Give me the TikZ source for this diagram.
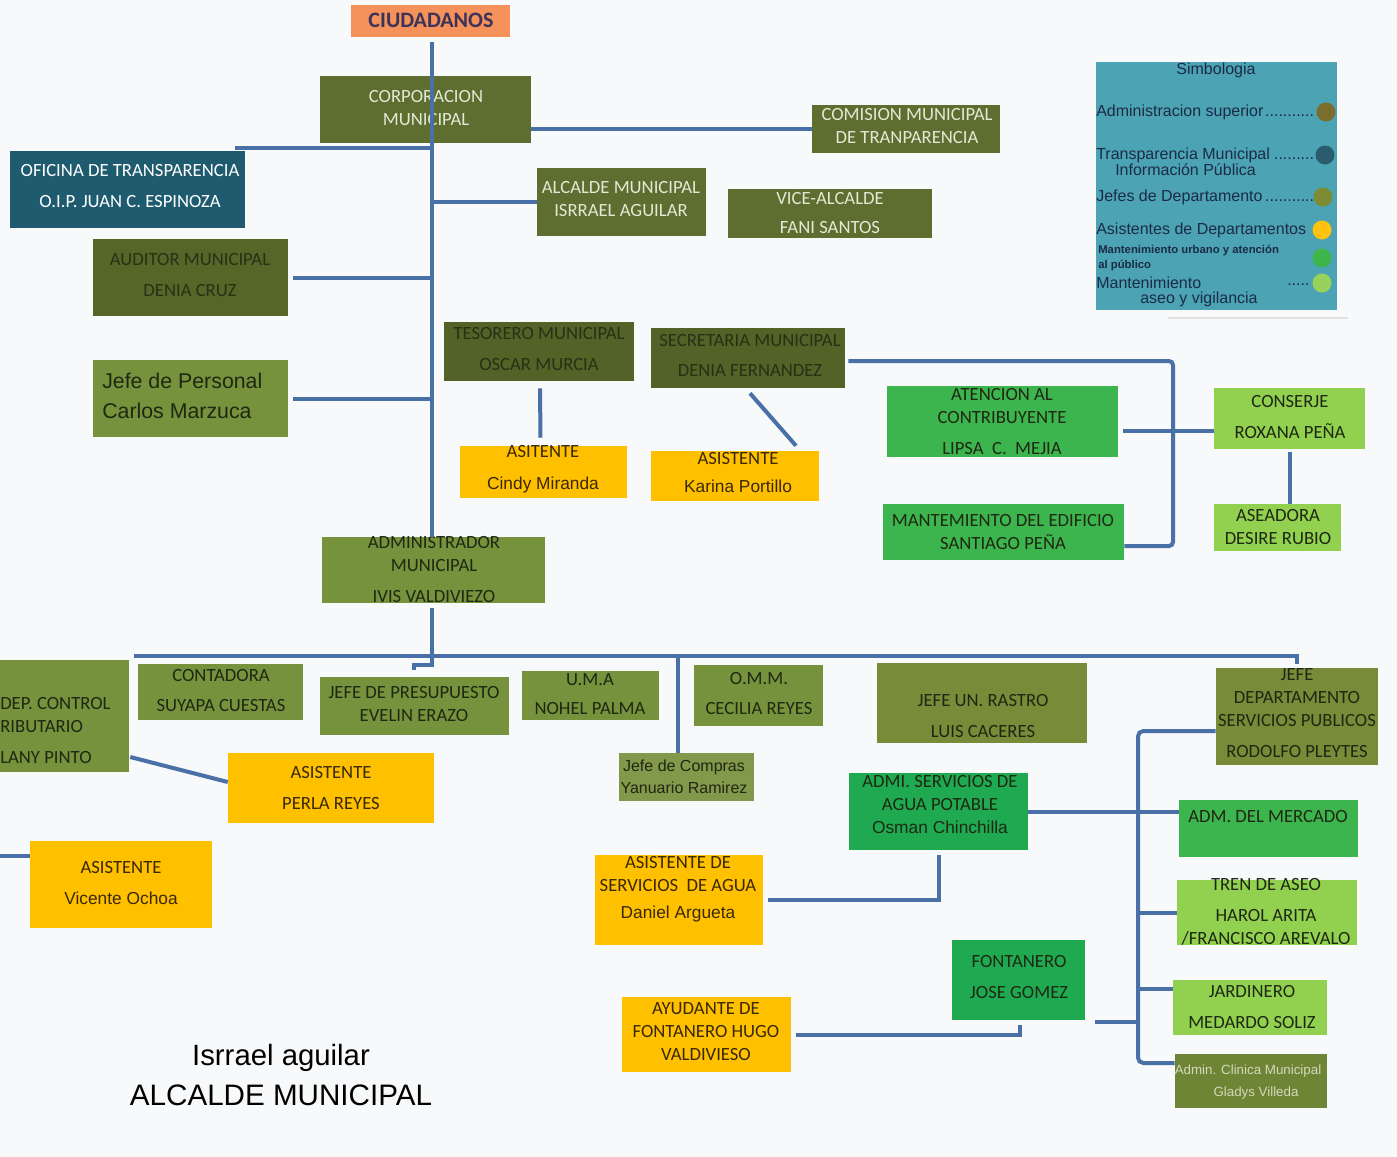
\documentclass[tikz,border=0pt]{standalone}
\usepackage{fontspec}
\setmainfont{Carlito}
\newfontfamily\arialf{Liberation Sans}
\usetikzlibrary{fit,calc}
\definecolor{bg}{HTML}{F8F9FA}
\definecolor{lineb}{HTML}{4A70A8}
\definecolor{cCiu}{HTML}{F5915A}
\definecolor{tCiu}{HTML}{3B3358}
\definecolor{cSup}{HTML}{5E6E30}
\definecolor{tSup}{HTML}{E4E8D4}
\definecolor{cAud}{HTML}{566528}
\definecolor{cTes}{HTML}{536227}
\definecolor{cOfi}{HTML}{1F5B6E}
\definecolor{cJefe}{HTML}{76923C}
\definecolor{cRas}{HTML}{788B38}
\definecolor{cComp}{HTML}{82984A}
\definecolor{cAsi}{HTML}{FFC000}
\definecolor{tAsi}{HTML}{3A2806}
\definecolor{cGrn}{HTML}{3DB54F}
\definecolor{cGrn2}{HTML}{1FAA52}
\definecolor{cLgr}{HTML}{92D050}
\definecolor{cCli}{HTML}{6E8535}
\definecolor{tDark}{HTML}{1E2812}
\definecolor{tLeg}{HTML}{1C2B45}
\definecolor{cLeg}{HTML}{4BA3B4}
\definecolor{k1}{HTML}{7B6E2C}
\definecolor{k2}{HTML}{2B5C6E}
\definecolor{k3}{HTML}{7D8B35}
\definecolor{k4}{HTML}{FFC20E}
\definecolor{k5}{HTML}{3DB54A}
\definecolor{k6}{HTML}{98D25A}
\newcommand\dts{\leaders\hbox{.}\hfill}
\begin{document}
\begin{tikzpicture}[x=0.75pt,y=-0.75pt,
  bxs/.style={rectangle,inner sep=0pt,draw=none},
  tx/.style={align=center,inner sep=0pt,text=tDark,font=\fontsize{14}{17.25}\selectfont},
  conn/.style={draw=lineb,line width=3pt},
  leg/.style={anchor=west,inner sep=0pt,text=tLeg,font=\arialf\fontsize{12}{13}\selectfont}]
\fill[bg] (0,0) rectangle (1397,1157);
\useasboundingbox (0,0) rectangle (1397,1157);
\clip (0,0) rectangle (1397,1157);

% ---------- boxes ----------
\node[bxs,fill=cCiu,fit={(351,5)(510,37)}] (ciu) {};
\node[tx,text=tCiu,font=\bfseries\fontsize{16.5}{18}\selectfont] (ciut) at (431,20) {CIUDADANOS};

\node[bxs,fill=cSup,fit={(320,76)(531,143)}] (corp) {};
\node[tx,text=tSup] (corpt) at (426,108.5) {CORPORACION\\MUNICIPAL};

\node[bxs,fill=cSup,fit={(812,105)(1000,153)}] (com) {};
\node[tx,text=tSup] (comt) at (907,126.5) {COMISION MUNICIPAL\\DE TRANPARENCIA};

\node[bxs,fill=cOfi,fit={(10,151)(245,228)}] (ofi) {};
\node[tx,text=white] (ofit) at (130,186.5) {OFICINA DE TRANSPARENCIA\\[6pt]O.I.P. JUAN C. ESPINOZA};

\node[bxs,fill=cSup,fit={(537,168)(706,236)}] (alc) {};
\node[tx,text=tSup] (alct) at (621,199.5) {ALCALDE MUNICIPAL\\ISRRAEL AGUILAR};

\node[bxs,fill=cSup,fit={(728,189)(932,238)}] (vice) {};
\node[tx,text=tSup] (vicet) at (830,213) {VICE-ALCALDE\\[5pt]FANI SANTOS};

\node[bxs,fill=cAud,fit={(93,239)(288,316)}] (aud) {};
\node[tx,text=tDark!85!cAud] (audt) at (190,275) {AUDITOR MUNICIPAL\\[6pt]DENIA CRUZ};

\node[bxs,fill=cJefe,fit={(93,360)(288,437)}] (per) {};
\node[tx,align=left,anchor=west,font=\arialf\fontsize{16}{22.5}\selectfont] (pert) at (102,396) {Jefe de Personal\\Carlos Marzuca};

\node[bxs,fill=cTes,fit={(444,322)(634,381)}] (teso) {};
\node[tx,text=tDark!85!cTes] (tesot) at (539,349) {TESORERO MUNICIPAL\\[6pt]OSCAR MURCIA};

\node[bxs,fill=cTes,fit={(651,328)(845,388)}] (secr) {};
\node[tx,text=tDark!85!cTes] (secrt) at (750,355.5) {SECRETARIA MUNICIPAL\\[5pt]DENIA FERNANDEZ};

\node[bxs,fill=cAsi,fit={(460,446)(627,498)}] (cindy) {};
\node[tx,text=tAsi] (cindyt) at (543,469.5) {ASITENTE\\[7pt]{\arialf\fontsize{13}{15}\selectfont Cindy Miranda}};

\node[bxs,fill=cAsi,fit={(651,451)(819,501)}] (kar) {};
\node[tx,text=tAsi] (kart) at (738,472.5) {ASISTENTE\\[4pt]{\arialf\fontsize{13}{15}\selectfont Karina Portillo}};

\node[bxs,fill=cGrn,fit={(887,386)(1118,457)}] (aten) {};
\node[tx] (atent) at (1002,421.5) {ATENCION AL\\CONTRIBUYENTE\\[6pt]LIPSA\ \ C.\ \ MEJIA};

\node[bxs,fill=cGrn,fit={(883,504)(1124,560)}] (mant) {};
\node[tx] (mantt) at (1003,531.5) {MANTEMIENTO DEL EDIFICIO\\SANTIAGO PEÑA};

\node[bxs,fill=cLgr,fit={(1214,388)(1365,449)}] (cons) {};
\node[tx] (const) at (1290,417) {CONSERJE\\[6pt]ROXANA PEÑA};

\node[bxs,fill=cLgr,fit={(1214,504)(1341,551)}] (asea) {};
\node[tx] (aseat) at (1278,527.5) {ASEADORA\\DESIRE RUBIO};

\node[bxs,fill=cJefe,fit={(322,537)(545,603)}] (admin) {};
\node[tx] (admint) at (434,569.5) {ADMINISTRADOR\\MUNICIPAL\\[6pt]IVIS VALDIVIEZO};

\node[bxs,fill=cJefe,fit={(-20,660)(129,772)}] (dep) {};
\node[tx,align=left,anchor=west] (dept) at (0,730) {DEP. CONTROL\\RIBUTARIO\\[6pt]LANY PINTO};

\node[bxs,fill=cJefe,fit={(138,664)(303,720)}] (cont) {};
\node[tx] (contt) at (221,690.5) {CONTADORA\\[5pt]SUYAPA CUESTAS};

\node[bxs,fill=cJefe,fit={(320,677)(509,735)}] (pres) {};
\node[tx] (prest) at (414,703.5) {JEFE DE PRESUPUESTO\\EVELIN ERAZO};

\node[bxs,fill=cJefe,fit={(522,671)(659,720)}] (uma) {};
\node[tx] (umat) at (590,694) {U.M.A\\[5pt]NOHEL PALMA};

\node[bxs,fill=cJefe,fit={(694,665)(823,726)}] (omm) {};
\node[tx] (ommt) at (759,693.5) {O.M.M.\\[5pt]CECILIA REYES};

\node[bxs,fill=cRas,fit={(877,663)(1087,743)}] (ras) {};
\node[tx] (rast) at (983,716) {JEFE UN. RASTRO\\[6pt]LUIS CACERES};

\node[bxs,fill=cRas,fit={(1216,668)(1378,765)}] (jdep) {};
\node[tx] (jdept) at (1297,713) {JEFE\\DEPARTAMENTO\\SERVICIOS PUBLICOS\\[6pt]RODOLFO PLEYTES};

\node[bxs,fill=cAsi,fit={(228,753)(434,823)}] (perla) {};
\node[tx,text=tAsi] (perlat) at (331,787.5) {ASISTENTE\\[6pt]PERLA REYES};

\node[bxs,fill=cAsi,fit={(30,841)(212,928)}] (vic) {};
\node[tx,text=tAsi] (vict) at (121,883.5) {ASISTENTE\\[6pt]{\arialf\fontsize{13}{15}\selectfont Vicente Ochoa}};

\node[bxs,fill=cComp,fit={(619,753)(754,801)}] (comp) {};
\node[tx,font=\arialf\fontsize{12}{16.5}\selectfont] (compt) at (684,777) {Jefe de Compras\\Yanuario Ramirez};

\node[bxs,fill=cGrn2,fit={(849,773)(1028,850)}] (agua) {};
\node[tx] (aguat) at (940,805) {ADMI. SERVICIOS DE\\AGUA POTABLE\\{\arialf\fontsize{13}{15}\selectfont Osman Chinchilla}};

\node[bxs,fill=cGrn,fit={(1179,800)(1358,857)}] (merc) {};
\node[tx] (merct) at (1268,817) {ADM. DEL MERCADO};

\node[bxs,fill=cAsi,fit={(595,855)(763,945)}] (asag) {};
\node[tx,text=tAsi] (asagt) at (678,889.5) {ASISTENTE DE\\SERVICIOS\ \ DE AGUA\\[3pt]{\arialf\fontsize{13}{15}\selectfont Daniel Argueta}};

\node[bxs,fill=cLgr,fit={(1177,880)(1357,945)}] (tren) {};
\node[tx] (trent) at (1266,911.5) {TREN DE ASEO\\[6pt]HAROL ARITA\\/FRANCISCO AREVALO};

\node[bxs,fill=cGrn2,fit={(952,940)(1085,1020)}] (font) {};
\node[tx] (fontt) at (1019,976.5) {FONTANERO\\[6pt]JOSE GOMEZ};

\node[bxs,fill=cLgr,fit={(1173,980)(1327,1035)}] (jard) {};
\node[tx] (jardt) at (1252,1006.5) {JARDINERO\\[6pt]MEDARDO SOLIZ};

\node[bxs,fill=cAsi,fit={(622,997)(791,1072)}] (ayu) {};
\node[tx,text=tAsi] (ayut) at (706,1031.5) {AYUDANTE DE\\FONTANERO HUGO\\VALDIVIESO};

\node[bxs,fill=cCli,fit={(1175,1054)(1327,1108)}] (cli) {};
\node[tx,text=tSup!85!cCli,font=\arialf\fontsize{10}{16.5}\selectfont] (clit) at (1248,1082) {Admin. Clinica Municipal\\\hspace*{1.2em}Gladys Villeda};

% ---------- signature ----------
\node[inner sep=0pt,font=\arialf\fontsize{22}{24}\selectfont,text=black] (sig1) at (281,1058) {Isrrael aguilar};
\node[inner sep=0pt,font=\arialf\fontsize{22.2}{24}\selectfont,text=black] (sig2) at (281,1095) {ALCALDE MUNICIPAL};

% ---------- legend ----------
\node[bxs,fill=cLeg,fit={(1096,62)(1337,310)}] (legbox) {};
\draw[black!12,line width=1pt] (1168,318) -- (1348,318);
\node[leg,anchor=center] (legt) at (1216,70) {Simbologia};
\node[leg] (l1) at (1096,112) {\hbox to 166pt{Administracion superior\dts}};
\node[leg] (l2) at (1096,155) {\hbox to 164pt{Transparencia Municipal\dts}};
\node[leg] (l2b) at (1115,170) {Información Pública};
\node[leg] (l3) at (1096,197) {\hbox to 165pt{Jefes de Departamento\dts}};
\node[leg] (l4) at (1096,230) {\hbox to 162pt{Asistentes de Departamentos\dts}};
\node[leg,font=\arialf\bfseries\fontsize{8.5}{11}\selectfont] (l5) at (1098,251) {Mantenimiento urbano y atención};
\node[leg,font=\arialf\bfseries\fontsize{8.5}{11}\selectfont] (l5b) at (1098,266) {al público};
\node[leg] (l6) at (1096,283) {Mantenimiento};
\node[leg] (l6b) at (1140,299) {aseo y vigilancia};
\node[leg] (l6d) at (1287,285) {.....};
\fill[k1] (1326,112) circle (9.5);
\fill[k2] (1325,155) circle (9.5);
\fill[k3] (1323,197) circle (9.5);
\fill[k4] (1322,230) circle (9.5);
\fill[k5] (1322,258) circle (9.5);
\fill[k6] (1322,283) circle (9.5);

% ---------- connectors ----------
\coordinate (t0) at (432,42);
\coordinate (hb) at (432,656);
\coordinate (bL) at (134,656);
\coordinate (bR2) at (1297,656);
\coordinate (ofiE) at (235,148);
\coordinate (sR) at (1173,361);
\coordinate (cj) at (678,656);
\coordinate (vL) at (0,856);
\coordinate (sb) at (1138,731);
\coordinate (st) at (1095,1022);

\draw[conn] (t0) -- (t0 |- admin.north);
\draw[conn] (ofiE) -- (ofiE -| t0);
\draw[conn] (com.west) -- (com.west -| corp.east);
\draw[conn] (alc.west) -- (alc.west -| t0);
\draw[conn] ($(aud.east)+(5,0)$) -- (aud.east -| t0);
\draw[conn] ($(per.east)+(5,0)$) -- (per.east -| t0);
\draw[conn] ($(teso.south)+(1,7)$) -- ($(cindy.north)+(-3,-8)$);
\draw[conn] ($(secr.south)+(2,5)$) -- ($(kar.north)+(61,-5)$);
\coordinate (mantL) at ($(mant.east)+(0,14)$);
\draw[conn,rounded corners=3pt] ($(secr.east)+(3,3)$) -- (sR) -- (sR |- mantL) -- (mantL);
\coordinate (ac) at ($(aten.east)+(5,9)$);
\draw[conn] (ac) -- (ac -| cons.west);
\draw[conn] ($(cons.south)+(0,3)$) -- (cons.south |- asea.north);
\draw[conn] ($(admin.south)+(-1.5,5)$) -- (hb);
\draw[conn] (bL) -- (bR2) -- (bR2 |- 0,664);
\draw[conn] (hb) -- ++(0,9) -| ($(pres.north)+(-1,-7)$);
\draw[conn] (cj) -- (cj |- comp.north);
\draw[conn] ($(dep.east)+(1,41)$) -- ($(perla.west)+(0,-6)$);
\draw[conn] (vL) -- (vL -| vic.west);
\coordinate (cliL) at ($(cli.west)+(0,-18)$);
\draw[conn,rounded corners=4pt] (sb -| jdep.west) -- (sb) -- (sb |- cliL) -- (cliL);
\draw[conn] (agua.east) -- (agua.east -| merc.west);
\draw[conn] (tren.west -| sb) -- (tren.west);
\coordinate (jl) at ($(jard.west)+(0,-19)$);
\draw[conn] (jl -| sb) -- (jl);
\draw[conn] (st) -- (st -| sb);
\draw[conn] ($(agua.south)+(0,5)$) |- ($(asag.east)+(5,0)$);
\draw[conn] ($(font.south)+(1.5,5)$) |- ($(ayu.east)+(5,0)$);
\end{tikzpicture}
\end{document}
